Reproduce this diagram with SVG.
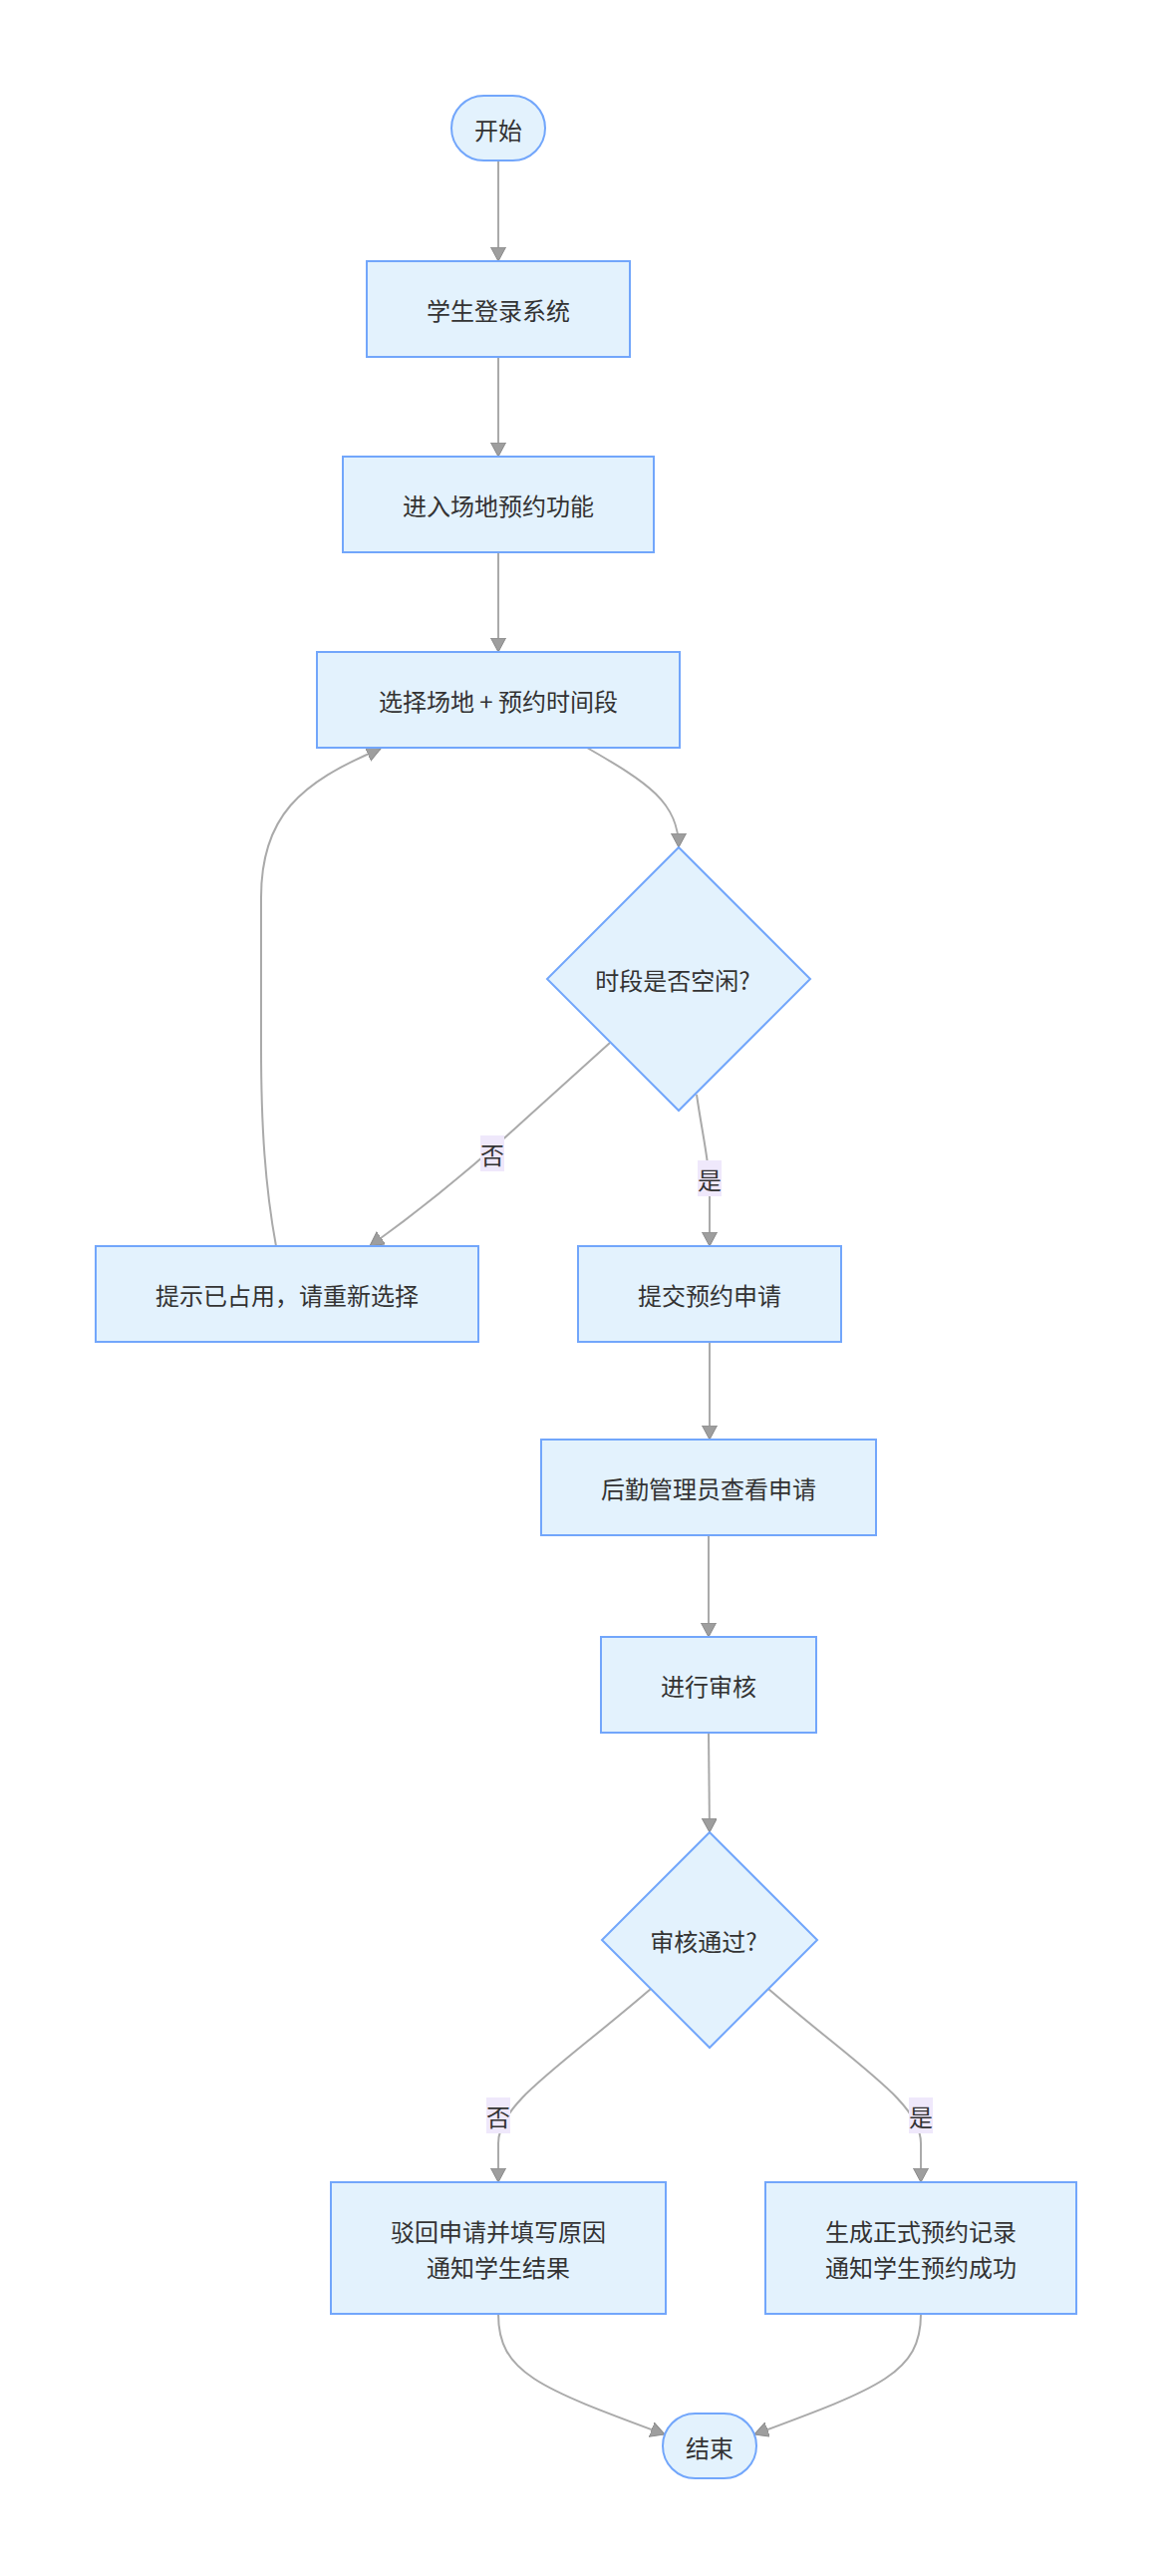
<svg xmlns="http://www.w3.org/2000/svg" width="1176" height="2584" viewBox="0 0 1176 2584">
<style>
.node rect, .node polygon { fill: #e3f2fd; stroke: #72a6fb; stroke-width: 2; }
.node text, .lbl text { font-family: "Noto Sans CJK SC", "Noto Sans", sans-serif; font-size: 24px; fill: #333333; text-anchor: middle; dominant-baseline: central; }
.edge { fill: none; stroke: #aaaaaa; stroke-width: 2; marker-end: url(#arrow); }
.lbl rect { fill: #efe8fb; }
</style>
<defs>
<marker id="arrow" markerUnits="userSpaceOnUse" markerWidth="16" markerHeight="16" refX="14" refY="7.5" orient="auto">
<path d="M0,0 L14,7.5 L0,15 z" fill="#9e9e9e" stroke="#8a8a8a" stroke-width="1"/>
</marker>
</defs>
<rect x="0" y="0" width="1176" height="2584" fill="#ffffff"/>
<g id="connectors">
<path class="edge" d="M500,161 L500,262"/>
<path class="edge" d="M500,358 L500,458"/>
<path class="edge" d="M500,554 L500,654"/>
<path class="edge" d="M589,750 C650,785 681,805 681,850"/>
<path class="edge" d="M612,1046 L530,1120 C470,1175 420,1215 371,1250"/>
<path class="edge" d="M699,1098 C705,1140 712,1165 712,1200 L712,1250"/>
<path class="edge" d="M277,1250 C266,1190 262,1130 262,1050 L262,900 C262,820 300,785 382,751"/>
<path class="edge" d="M712,1346 L712,1444"/>
<path class="edge" d="M711,1540 L711,1642"/>
<path class="edge" d="M711,1738 L712,1838"/>
<path class="edge" d="M653,1995 C560,2075 500,2110 500,2150 L500,2189"/>
<path class="edge" d="M771,1995 C864,2075 924,2110 924,2150 L924,2189"/>
<path class="edge" d="M500,2321 C500,2380 540,2395 667,2442"/>
<path class="edge" d="M924,2321 C924,2380 884,2395 757,2442"/>
<g class="lbl"><rect x="482" y="1139" width="24" height="36"/><text x="494" y="1157">否</text></g>
<g class="lbl"><rect x="700" y="1164" width="24" height="36"/><text x="712" y="1182">是</text></g>
<g class="lbl"><rect x="488" y="2104" width="24" height="36"/><text x="500" y="2122">否</text></g>
<g class="lbl"><rect x="912" y="2104" width="24" height="36"/><text x="924" y="2122">是</text></g>
</g>
<g id="n_start" class="node"><rect x="453" y="96" width="94" height="65" rx="32.5" ry="32.5"/><text x="500" y="129">开始</text></g>
<g id="n_login" class="node"><rect x="368" y="262" width="264" height="96"/><text x="500" y="310">学生登录系统</text></g>
<g id="n_enter" class="node"><rect x="344" y="458" width="312" height="96"/><text x="500" y="506">进入场地预约功能</text></g>
<g id="n_select" class="node"><rect x="318" y="654" width="364" height="96"/><text x="500" y="702">选择场地 + 预约时间段</text></g>
<g id="n_free" class="node"><polygon points="681,850 813,982 681,1114 549,982"/><text x="675" y="982">时段是否空闲?</text></g>
<g id="n_occupied" class="node"><rect x="96" y="1250" width="384" height="96"/><text x="288" y="1298">提示已占用，请重新选择</text></g>
<g id="n_submit" class="node"><rect x="580" y="1250" width="264" height="96"/><text x="712" y="1298">提交预约申请</text></g>
<g id="n_admin" class="node"><rect x="543" y="1444" width="336" height="96"/><text x="711" y="1492">后勤管理员查看申请</text></g>
<g id="n_review" class="node"><rect x="603" y="1642" width="216" height="96"/><text x="711" y="1690">进行审核</text></g>
<g id="n_pass" class="node"><polygon points="712,1838 820,1946 712,2054 604,1946"/><text x="706" y="1946">审核通过?</text></g>
<g id="n_reject" class="node"><rect x="332" y="2189" width="336" height="132"/><text x="500" y="2237">驳回申请并填写原因</text><text x="500" y="2273">通知学生结果</text></g>
<g id="n_approve" class="node"><rect x="768" y="2189" width="312" height="132"/><text x="924" y="2237">生成正式预约记录</text><text x="924" y="2273">通知学生预约成功</text></g>
<g id="n_end" class="node"><rect x="665" y="2421" width="94" height="65" rx="32.5" ry="32.5"/><text x="712" y="2454">结束</text></g>
</svg>
